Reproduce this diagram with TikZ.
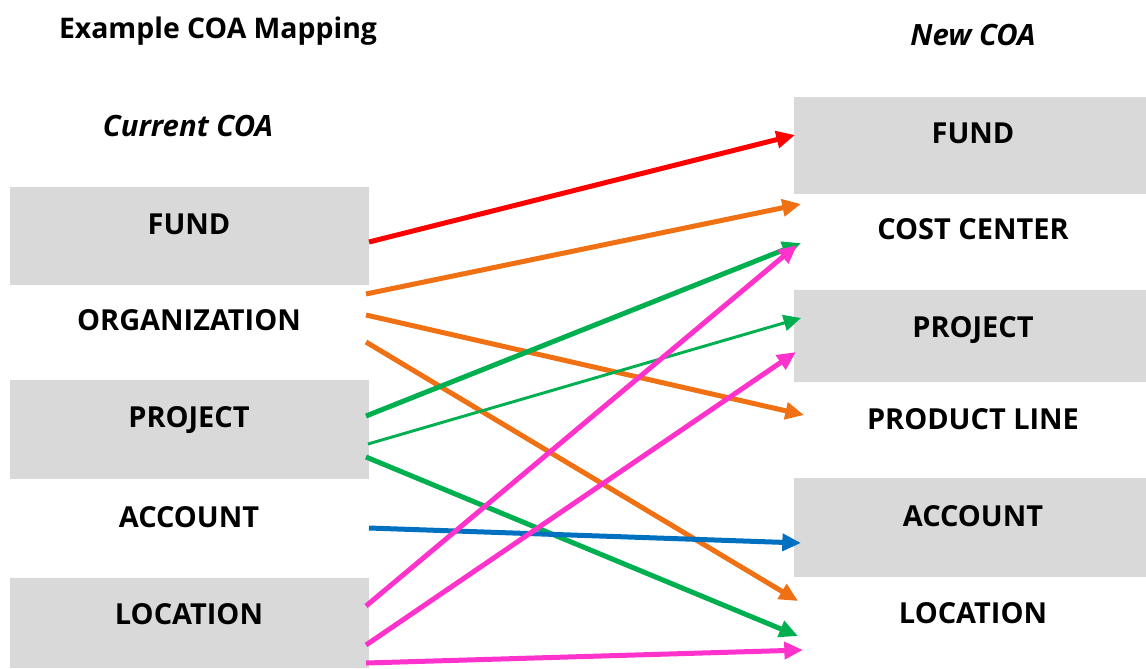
\documentclass[tikz,border=0pt]{standalone}
\usepackage{fontspec}
\setmainfont{Open Sans}
\usetikzlibrary{arrows.meta}
\definecolor{boxgray}{HTML}{D9D9D9}
\definecolor{cred}{HTML}{FF0000}
\definecolor{corange}{HTML}{F07014}
\definecolor{cgreen}{HTML}{00B050}
\definecolor{cblue}{HTML}{0070C0}
\definecolor{cpink}{HTML}{FF33CC}
\tikzset{
  lbl/.style={font=\fontsize{21.7}{24}\selectfont\bfseries, inner sep=0pt, anchor=center, text height=15.5pt, text depth=0pt},
  hdr/.style={font=\fontsize{21.3}{24}\selectfont\bfseries, inner sep=0pt, anchor=center, text height=15.2pt, text depth=0pt},
  ttl/.style={font=\fontsize{22}{24}\selectfont\bfseries\itshape, inner sep=0pt, text height=15.7pt, text depth=0pt},
  conn/.style={line width=3.75pt, -{Triangle[length=14pt,width=12.5pt]}},
  connthin/.style={line width=2.2pt, -{Triangle[length=13pt,width=12pt]}},
}
\begin{document}
\begin{tikzpicture}[x=0.75pt,y=-0.75pt]
\useasboundingbox (0,0) rectangle (1146,668);
% boxes
\fill[boxgray] (10,187) rectangle (369,285);
\fill[boxgray] (10,380) rectangle (369,479);
\fill[boxgray] (10,578) rectangle (369,668);
\fill[boxgray] (794,97) rectangle (1146,194);
\fill[boxgray] (794,290) rectangle (1146,382);
\fill[boxgray] (794,478) rectangle (1146,577);
% titles
\node[hdr] (title) at (218,28) {Example COA Mapping};
\node[ttl] (cur) at (188,126) {Current COA};
\node[ttl] (new) at (973,35) {New COA};
% left labels
\node[lbl] (lfund) at (189,224) {FUND};
\node[lbl] (lorg) at (189,320) {ORGANIZATION};
\node[lbl] (lproj) at (189,417) {PROJECT};
\node[lbl] (lacct) at (189,517) {ACCOUNT};
\node[lbl] (lloc) at (189,614) {LOCATION};
% right labels
\node[lbl] (rfund) at (973,133) {FUND};
\node[lbl] (rcc) at (973,229) {COST CENTER};
\node[lbl] (rproj) at (973,327) {PROJECT};
\node[lbl] (rpl) at (973,419) {PRODUCT LINE};
\node[lbl] (racct) at (973,516) {ACCOUNT};
\node[lbl] (rloc) at (973,613) {LOCATION};
% connector end points
\coordinate (s1) at (369,242); \coordinate (e1) at (795,135);
\coordinate (s2) at (366,294); \coordinate (e2) at (801,204);
\coordinate (s3) at (366,315); \coordinate (e3) at (804,415);
\coordinate (s4) at (366,342); \coordinate (e4) at (798,601);
\coordinate (s5) at (366,416); \coordinate (e5) at (801,243);
\coordinate (s6) at (368,444); \coordinate (e6) at (801,318);
\coordinate (s7) at (366,457); \coordinate (e7) at (798,636);
\coordinate (s8) at (369,528); \coordinate (e8) at (801,543);
\coordinate (s9) at (366,606); \coordinate (e9) at (797,245);
\coordinate (s10) at (366,645); \coordinate (e10) at (796,352);
\coordinate (s11) at (366,663); \coordinate (e11) at (803,650);
% connectors
\draw[conn, cred] (s1) -- (e1);
\draw[conn, corange] (s2) -- (e2);
\draw[conn, corange] (s3) -- (e3);
\draw[conn, corange] (s4) -- (e4);
\draw[conn, cgreen] (s5) -- (e5);
\draw[connthin, cgreen] (s6) -- (e6);
\draw[conn, cgreen] (s7) -- (e7);
\draw[conn, cblue] (s8) -- (e8);
\draw[conn, cpink] (s9) -- (e9);
\draw[conn, cpink] (s10) -- (e10);
\draw[conn, cpink] (s11) -- (e11);
\end{tikzpicture}
\end{document}
